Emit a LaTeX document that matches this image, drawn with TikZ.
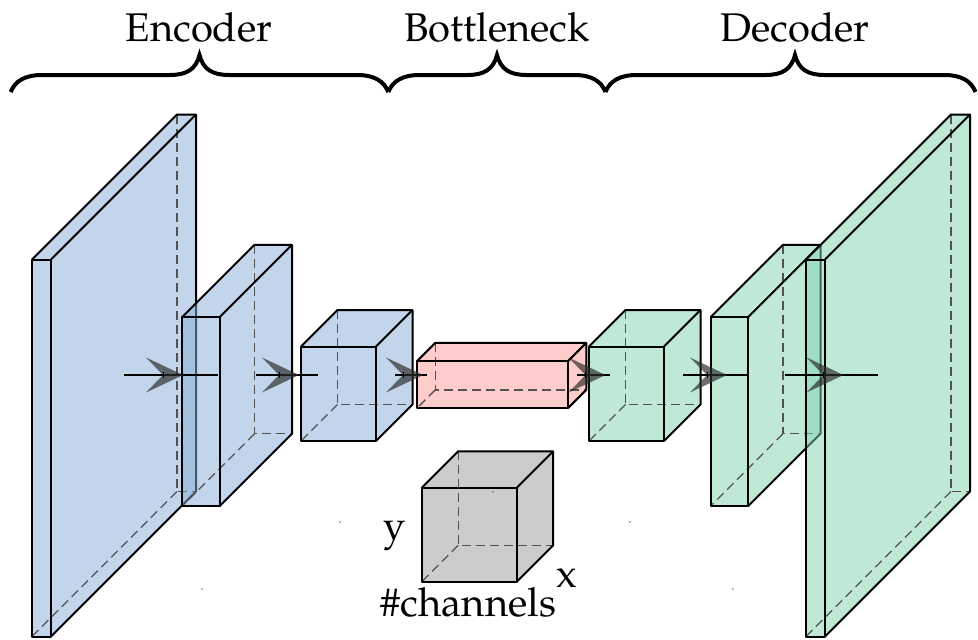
\documentclass[tikz,border=0pt]{standalone}
\usepackage[T1]{fontenc}
\renewcommand{\rmdefault}{ppl}

\definecolor{encblue}{RGB}{133,171,213}
\definecolor{decgreen}{RGB}{127,211,171}
\definecolor{neckred}{RGB}{255,153,153}
\definecolor{legendgray}{RGB}{153,153,153}

\tikzset{
  edge/.style={draw=black, line width=2pt, line join=round},
  hidden/.style={draw=black!68, line width=1.3pt, dash pattern=on 9pt off 5pt},
  face/.style={fill=#1, fill opacity=0.5},
  flow/.style={draw=black, line width=2.7pt},
  flowhead/.style={fill=black!83, fill opacity=0.68},
  notch/.style={draw=black, line width=0.9pt},
  bracestroke/.style={draw=black, line width=4pt},
  caption/.style={font=\fontsize{40}{48}\selectfont, inner sep=0pt, anchor=base},
  speck/.style={fill=black!55},
}

% layer box: left x of front face, centre y, width, height, depth, colour
\newcommand{\layerbox}[6]{%
  \pgfmathsetmacro\lbxa{#1}%
  \pgfmathsetmacro\lbxb{#1+#3}%
  \pgfmathsetmacro\lbyt{#2+#5/2-#4/2}%
  \pgfmathsetmacro\lbyb{#2+#5/2+#4/2}%
  \pgfmathsetmacro\lbd{#5}%
  \fill[face=#6] (\lbxa,\lbyt) rectangle (\lbxb,\lbyb);
  \fill[face=#6] (\lbxa,\lbyt) -- ++(\lbd,-\lbd) -- ++(#3,0) -- (\lbxb,\lbyt) -- cycle;
  \fill[face=#6] (\lbxb,\lbyt) -- ++(\lbd,-\lbd) -- ++(0,#4) -- (\lbxb,\lbyb) -- cycle;
  \draw[hidden] (\lbxa+\lbd,\lbyt-\lbd) -- (\lbxa+\lbd,\lbyb-\lbd) -- (\lbxb+\lbd,\lbyb-\lbd);
  \draw[hidden] (\lbxa+\lbd,\lbyb-\lbd) -- (\lbxa,\lbyb);
  \draw[edge] (\lbxa,\lbyt) rectangle (\lbxb,\lbyb);
  \draw[edge] (\lbxa,\lbyt) -- ++(\lbd,-\lbd) -- ++(#3,0) -- ++(0,#4) -- (\lbxb,\lbyb);
  \draw[edge] (\lbxb,\lbyt) -- ++(\lbd,-\lbd);
}

% flow arrow: name, start x, end x (head sits at the middle)
\newcommand{\flowarrow}[3]{%
  \coordinate (#1-s) at (#2,375);
  \coordinate (#1-e) at (#3,375);
  \draw[flow] (#1-s) -- (#1-e);
  \path (#1-s) -- (#1-e) coordinate[pos=0.5] (#1-m);
  \fill[flowhead, shift={(#1-m)}] (12,0) -- (-25,-17.5) -- (-8,0) -- (-25,17.5) -- cycle;
  \draw[notch, shift={(#1-m)}] (-8,-3) -- (-8,3);
}

% curly brace: left end, cusp, right end
\newcommand{\curlybrace}[3]{%
  \draw[bracestroke] (#1,92) .. controls (#1+4.3,81) and (#1+14.3,75) .. (#1+31.3,75)
    -- (#2-29.5,75) .. controls (#2-12.5,75) and (#2-3.5,69) .. (#2,55)
    .. controls (#2+3.5,69) and (#2+12.5,75) .. (#2+29.5,75)
    -- (#3-31.3,75) .. controls (#3-14.3,75) and (#3-4.3,81) .. (#3,92);
}

\begin{document}
\begin{tikzpicture}[x=1pt, y=-1pt]
  \useasboundingbox (0,0) rectangle (978,640);

  % section braces and titles
  \curlybrace{10.7}{199.5}{388.3}
  \curlybrace{388.3}{497}{605.5}
  \curlybrace{605.5}{795}{975.5}
  \node[caption] (enc) at (199,41.7) {Encoder};
  \node[caption] (neck) at (497,41.7) {Bottleneck};
  \node[caption] (dec) at (795,41.7) {Decoder};

  % encoder
  \layerbox{32}{375.5}{19}{377}{145}{encblue}
  \layerbox{182}{375.5}{37.5}{189}{72.5}{encblue}
  \layerbox{301}{375.5}{75}{94.5}{36.5}{encblue}
  % bottleneck
  \layerbox{417}{375.5}{151}{47}{18.25}{neckred}
  % decoder
  \layerbox{589}{375.5}{75}{94.5}{36.5}{decgreen}
  \layerbox{710.5}{375.5}{37.5}{189}{72.5}{decgreen}
  \layerbox{806}{375.5}{19}{377}{145}{decgreen}

  % legend cube
  \layerbox{421.7}{516.5}{95}{94}{36.5}{legendgray}
  \node[caption] (ylab) at (395,539) {y};
  \node[caption] (xlab) at (566.5,587) {x};
  \node[caption] (chan) at (468.5,616.7) {\#channels};

  % flow between layers
  \flowarrow{f1}{124}{218}
  \flowarrow{f2}{256}{318}
  \flowarrow{f3}{395}{427}
  \flowarrow{f4}{577}{610}
  \flowarrow{f5}{683}{747}
  \flowarrow{f6}{785}{878}

  % stray specks
  \fill[speck] (202,589) circle (0.8pt);
  \fill[speck] (340,522) circle (0.8pt);
  \fill[speck] (493,492) circle (0.8pt);
  \fill[speck] (630,522) circle (0.8pt);
  \fill[speck] (733,589) circle (0.8pt);
\end{tikzpicture}
\end{document}
